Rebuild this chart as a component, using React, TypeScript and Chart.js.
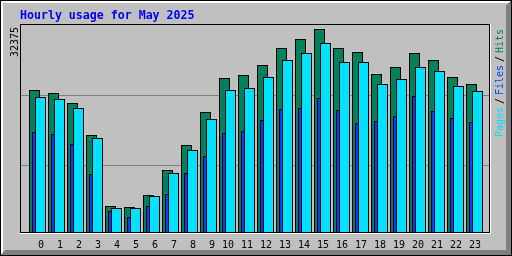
import { useEffect, useRef } from 'react';
import { Chart, registerables } from 'chart.js';

Chart.register(...registerables);

const TITLE = 'Hourly usage for May 2025';
const hours = ['0', '1', '2', '3', '4', '5', '6', '7', '8', '9', '10', '11', '12', '13', '14', '15', '16', '17', '18', '19', '20', '21', '22', '23'];
const hits = [22694, 22218, 20631, 15553, 4285, 4126, 6031, 9998, 13966, 19203, 24599, 25075, 26662, 29360, 30788, 32375, 29360, 28725, 25233, 26344, 28566, 27455, 24757, 23646];
const files = [16029, 15711, 14124, 9363, 3491, 2539, 4285, 6189, 9522, 12220, 15870, 16187, 17933, 19679, 19838, 21425, 19520, 17457, 17774, 18568, 21742, 19361, 18251, 17616];
const pages = [21583, 21266, 19838, 15077, 3968, 3968, 5872, 9522, 13172, 18092, 22694, 23012, 24757, 27455, 28566, 30153, 27138, 27138, 23646, 24440, 26344, 25709, 23329, 22535];
const legendWords = ['Pages', '/', 'Files', '/', 'Hits'];

const W = 512;
const H = 256;
const STEP = 19;
const PLOT_L = 20;
const PLOT_R = 491;
const SPAN = (PLOT_R - PLOT_L) / STEP;
const MONO = '"DejaVu Sans Mono", "Liberation Mono", monospace';

const C_BG = '#C0C0C0';
const C_DARK = '#808080';
const C_HITS = '#00805C';
const C_FILES = '#0040FF';
const C_PAGES = '#00E0FF';
const C_TITLE = '#0000FF';

const maxVal = Math.max(...hits, ...files, ...pages);

const framePlugin = {
  id: 'webalizerFrame',
  beforeDraw(chart: any) {
    const ctx: CanvasRenderingContext2D = chart.ctx;
    ctx.save();
    const rect = (x: number, y: number, w: number, h: number, c: string) => {
      ctx.fillStyle = c;
      ctx.fillRect(x, y, w, h);
    };
    rect(0, 0, W, H, C_BG);
    // outer black border
    rect(0, 0, W, 1, '#000');
    rect(0, H - 1, W, 1, '#000');
    rect(0, 0, 1, H, '#000');
    rect(W - 1, 0, 1, H, '#000');
    // 3d bevel
    for (let i = 1; i <= 2; i++) {
      rect(i, i, W - 2 * i - 1, 1, '#FFFFFF');
      rect(i, i, 1, H - 2 * i - 1, '#FFFFFF');
    }
    for (let i = 1; i <= 5; i++) {
      rect(i, H - 1 - i, W - 2 * i, 1, C_DARK);
      rect(W - 1 - i, i, 1, H - 2 * i, C_DARK);
    }
    // plot box
    rect(20, 24, 470, 1, '#000');
    rect(20, 24, 1, 209, '#000');
    rect(20, 232, 470, 1, '#000');
    rect(489, 24, 1, 209, '#000');
    rect(20, 233, 471, 1, '#FFFFFF');
    rect(490, 24, 1, 210, '#FFFFFF');
    // grid lines
    rect(21, 95, 468, 1, C_DARK);
    rect(21, 165, 468, 1, C_DARK);

    // title
    ctx.textAlign = 'left';
    ctx.textBaseline = 'alphabetic';
    ctx.font = `bold 11.6px ${MONO}`;
    ctx.fillStyle = C_TITLE;
    ctx.fillText(TITLE, 20, 19);

    const up = (text: string, x: number, y: number, color: string) => {
      ctx.save();
      ctx.translate(x, y);
      ctx.rotate(-Math.PI / 2);
      ctx.fillStyle = color;
      ctx.fillText(text, 0, 0);
      ctx.restore();
    };
    ctx.font = `10px ${MONO}`;
    up(String(maxVal), 18, 57, '#000');
    const legendColors = [C_PAGES, '#000', C_FILES, '#000', C_HITS];
    const legendY = [137, 104, 95, 62, 53];
    legendWords.forEach((w, i) => up(w, 502.5, legendY[i], legendColors[i]));
    ctx.restore();
  },
};

const barStyle = {
  borderColor: '#000000',
  borderWidth: 1,
  borderSkipped: false,
  barThickness: 11,
  inflateAmount: 0,
  borderRadius: 0,
  grouped: false,
};

const hiddenX = (centerPx: number) => ({
  type: 'linear' as const,
  display: false,
  bounds: 'data' as const,
  offset: false,
  min: -(centerPx - PLOT_L) / STEP,
  max: -(centerPx - PLOT_L) / STEP + SPAN,
});

export default function App() {
  const ref = useRef<HTMLCanvasElement>(null);
  useEffect(() => {
    if (!ref.current) return;
    const labelMin = -(44 - PLOT_L) / STEP;
    const chart = new Chart(ref.current, {
      type: 'bar',
      data: {
        labels: hours,
        datasets: [
          { label: 'Hits', data: hits, xAxisID: 'xHits', yAxisID: 'y', backgroundColor: C_HITS, order: 2, ...barStyle } as any,
          { label: 'Files', data: files, xAxisID: 'xFiles', yAxisID: 'y', backgroundColor: C_FILES, order: 1, ...barStyle } as any,
          { label: 'Pages', data: pages, xAxisID: 'xPages', yAxisID: 'y', backgroundColor: C_PAGES, order: 0, ...barStyle } as any,
        ],
      },
      options: {
        responsive: false,
        animation: false,
        devicePixelRatio: 1,
        events: [],
        layout: { padding: { left: PLOT_L, right: W - PLOT_R, top: 29, bottom: 0 } },
        plugins: { legend: { display: false }, title: { display: false }, tooltip: { enabled: false } },
        scales: {
          xHits: hiddenX(34.5),
          xFiles: hiddenX(37.5),
          xPages: hiddenX(40.5),
          xLabels: {
            type: 'linear',
            position: 'bottom',
            display: true,
            bounds: 'data',
            offset: false,
            min: labelMin,
            max: labelMin + SPAN,
            grid: { display: false, drawTicks: false },
            border: { display: false },
            afterBuildTicks: (s: any) => {
              s.ticks = hours.map((_, i) => ({ value: i }));
            },
            afterFit: (s: any) => {
              s.height = H - 233;
            },
            ticks: {
              autoSkip: false,
              maxRotation: 0,
              minRotation: 0,
              align: 'end',
              padding: 6,
              color: '#000',
              font: { family: MONO, size: 10 },
              callback: (v: any) => hours[v] ?? '',
            },
          },
          y: { type: 'linear', display: false, min: 0, max: maxVal },
        } as any,
      },
      plugins: [framePlugin],
    });
    return () => chart.destroy();
  }, []);
  return (
    <div style={{ position: 'fixed', left: 0, top: 0, width: W, height: H }}>
      <canvas ref={ref} width={W} height={H} style={{ display: 'block', width: W, height: H }} />
    </div>
  );
}
